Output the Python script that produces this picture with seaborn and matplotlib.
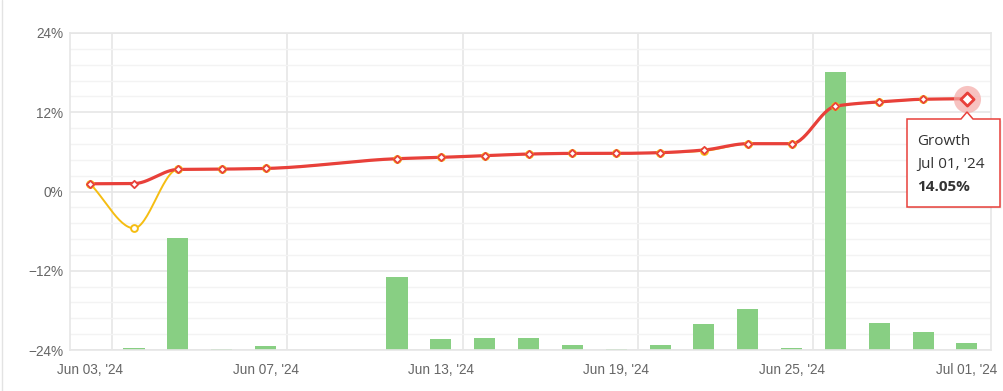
import numpy as np
import pandas as pd
import seaborn as sns
import matplotlib.pyplot as plt
from matplotlib.patches import Polygon
from matplotlib.lines import Line2D

# trading days shown on the x axis
dates = [
    "Jun 03, '24", "Jun 04, '24", "Jun 05, '24", "Jun 06, '24", "Jun 07, '24",
    "Jun 10, '24", "Jun 11, '24", "Jun 12, '24", "Jun 13, '24", "Jun 14, '24",
    "Jun 17, '24", "Jun 18, '24", "Jun 19, '24", "Jun 20, '24", "Jun 21, '24",
    "Jun 24, '24", "Jun 25, '24", "Jun 26, '24", "Jun 27, '24", "Jun 28, '24",
    "Jul 01, '24",
]
# growth (%), red line
growth = [1.17, 1.20, 3.34, 3.39, 3.49, None, None, 4.97, 5.17, 5.42, 5.67,
          5.77, 5.77, 5.88, 6.28, 7.24, 7.24, 12.91, 13.57, 13.97, 14.05]
# equity growth (%), yellow line
equity = [1.17, -5.57, 3.34, 3.39, 3.49, None, None, 4.97, 5.17, 5.42, 5.67,
          5.77, 5.77, 5.88, 6.15, 7.24, 7.24, 12.91, 13.57, 13.97, 14.05]
# daily bars, height above the -24% floor
daily = [0.0, 0.26, 17.0, 0.15, 0.65, None, None, 11.1, 1.6, 1.8, 1.8,
         0.7, 0.15, 0.7, 3.95, 6.2, 0.3, 42.1, 4.1, 2.8, 1.1]

RED = "#e8403a"
YELLOW = "#f5bd12"
GREEN = "#88cf83"
GRID = "#e6e6e6"
TXT = "#666666"

W, H = 1004, 391


def monotone_curve(x, y, steps=30):
    x = np.asarray(x, float)
    y = np.asarray(y, float)
    h = np.diff(x)
    d = np.diff(y) / h
    m = np.zeros_like(y)
    m[0], m[-1] = d[0], d[-1]
    for k in range(1, len(y) - 1):
        if d[k - 1] * d[k] <= 0:
            m[k] = 0
        else:
            w1 = 2 * h[k] + h[k - 1]
            w2 = h[k] + 2 * h[k - 1]
            m[k] = (w1 + w2) / (w1 / d[k - 1] + w2 / d[k])
    xs, ys = [], []
    t = np.linspace(0, 1, steps, endpoint=False)
    for k in range(len(h)):
        h00 = 2 * t**3 - 3 * t**2 + 1
        h10 = t**3 - 2 * t**2 + t
        h01 = -2 * t**3 + 3 * t**2
        h11 = t**3 - t**2
        xs.append(x[k] + t * h[k])
        ys.append(h00 * y[k] + h10 * h[k] * m[k] + h01 * y[k + 1] + h11 * h[k] * m[k + 1])
    xs.append([x[-1]])
    ys.append([y[-1]])
    return np.concatenate(xs), np.concatenate(ys)


def px(x, y):
    return x / W, 1 - y / H


df = pd.DataFrame({"idx": range(len(dates)), "date": dates,
                   "growth": growth, "equity": equity, "daily": daily})
df = df.astype({"growth": float, "equity": float, "daily": float})
pts = df.dropna(subset=["growth"])
bars = df.dropna(subset=["daily"])
bars = bars[bars["daily"] > 0]

sns.set_style("white")
plt.rcParams["font.family"] = ["Liberation Sans", "DejaVu Sans"]

fig = plt.figure(figsize=(W / 100, H / 100), dpi=100)
ax = fig.add_axes([70 / W, 1 - 350 / H, (991 - 70) / W, (350 - 33) / H])

sns.barplot(data=bars, x="idx", y="daily", native_scale=True, width=0.48,
            bottom=-24, color=GREEN, saturation=1, errorbar=None,
            linewidth=0, ax=ax, zorder=2)

ex, ey = monotone_curve(pts["idx"], pts["equity"])
gx, gy = monotone_curve(pts["idx"], pts["growth"])
sns.lineplot(x=ex, y=ey, color=YELLOW, linewidth=1.4, sort=False,
             estimator=None, ax=ax, zorder=3)
sns.lineplot(x=gx, y=gy, color=RED, linewidth=2.3, sort=False,
             estimator=None, ax=ax, zorder=4)
sns.scatterplot(data=pts, x="idx", y="equity", marker="o", s=24,
                facecolor="white", edgecolor=YELLOW, linewidth=1.4,
                ax=ax, zorder=5)
sns.scatterplot(data=pts.iloc[:-1], x="idx", y="growth", marker="D", s=14,
                facecolor="white", edgecolor=RED, linewidth=1.3,
                ax=ax, zorder=6)

# hovered last point
last = pts.iloc[-1]
ax.scatter(last["idx"], last["growth"], s=380, color="#f4a9a6", alpha=0.7,
           linewidth=0, zorder=6)
ax.scatter(last["idx"], last["growth"], s=45, marker="D", facecolor="white",
           edgecolor=RED, linewidth=2, zorder=7)

ax.set_xlim(-0.46, 20.55)
ax.set_ylim(-24, 24)
major = [-24, -12, 0, 12, 24]
ax.set_yticks(major)
ax.set_yticks(np.arange(-24, 24.1, 2.4), minor=True)
ax.set_yticklabels([f"{v}%".replace("-", "\u2212") for v in major])
ticks = list(range(0, len(dates), 4))
ax.set_xticks(ticks)
ax.set_xticklabels([dates[i] for i in ticks])
ax.set_xticks([i + 0.5 for i in ticks[:-1]], minor=True)
ax.set_xlabel("")
ax.set_ylabel("")

ax.grid(which="major", axis="y", color=GRID, linewidth=1.2, zorder=0)
ax.grid(which="minor", axis="y", color="#f3f3f3", linewidth=1, zorder=0)
ax.grid(which="minor", axis="x", color=GRID, linewidth=1.2, zorder=0)
ax.set_axisbelow(True)
ax.tick_params(which="both", length=0)
ax.tick_params(axis="x", pad=9, labelsize=9.8, labelcolor=TXT)
ax.tick_params(axis="y", pad=5, labelsize=9.8, labelcolor=TXT)
for s in ax.spines.values():
    s.set_color(GRID)
    s.set_linewidth(1.2)

# container border on the left
fig.add_artist(Line2D([2.5 / W, 2.5 / W], [0, 1], color="#e3e3e3", lw=1))

# tooltip
shape = [(907, 119), (961, 119), (967, 112), (973, 119), (1000, 119),
         (1000, 207), (907, 207)]
shadow = Polygon([px(x + 1.5, y + 1.5) for x, y in shape], closed=True,
                 transform=fig.transFigure, facecolor="#000000", alpha=0.08,
                 edgecolor="none")
box = Polygon([px(x, y) for x, y in shape], closed=True,
              transform=fig.transFigure, facecolor="white", edgecolor=RED,
              linewidth=1.1)
fig.add_artist(shadow)
fig.add_artist(box)
tip_font = ["Open Sans", "DejaVu Sans"]
fig.text(*px(917, 145), "Growth", fontsize=11, color="#333333",
         family=tip_font, va="baseline")
fig.text(*px(917, 168), "Jul 01, '24", fontsize=11, color="#333333",
         family=tip_font, va="baseline")
fig.text(*px(917, 191), "14.05%", fontsize=11, color="#333333",
         family=tip_font, fontweight="bold", va="baseline")

fig.savefig("out.png", dpi=100)
